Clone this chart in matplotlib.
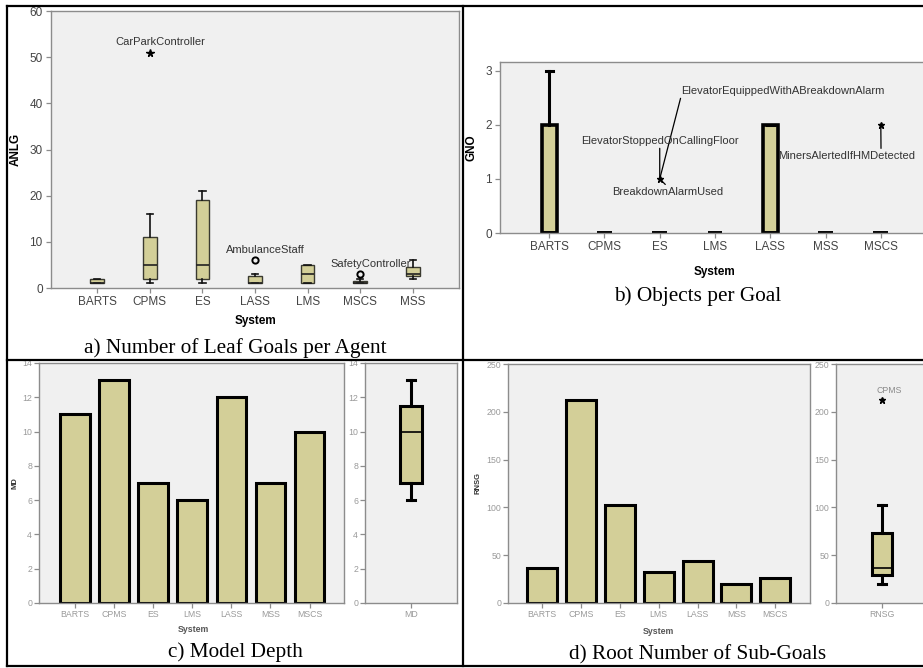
import matplotlib
matplotlib.use("Agg")
import matplotlib.pyplot as plt
from matplotlib.lines import Line2D

plt.rcParams['font.family'] = ['Liberation Sans', 'DejaVu Sans']

# ==========================
# data
# ==========================
# a) leaf goals per agent (box plot summary per system)
a_systems = ["BARTS", "CPMS", "ES", "LASS", "LMS", "MSCS", "MSS"]
a_q1 = [1, 2, 2, 1, 1, 1, 2.5]
a_med = [1, 5, 5, 1, 3, 1, 3]
a_q3 = [2, 11, 19, 2.5, 5, 1.5, 4.5]
a_lo = [1, 1, 1, 1, 1, 1, 2]
a_hi = [2, 16, 21, 3, 5, 2, 6]
a_outliers = {"CPMS": [51], "LASS": [6], "MSCS": [3]}
a_out_kind = {"CPMS": "*", "LASS": "o", "MSCS": "o"}
a_out_names = {"CPMS": "CarParkController", "LASS": "AmbulanceStaff",
               "MSCS": "SafetyController"}

# b) objects per goal
b_systems = ["BARTS", "CPMS", "ES", "LMS", "LASS", "MSS", "MSCS"]
b_q1 = [0, 0, 0, 0, 0, 0, 0]
b_med = [0, 0, 0, 0, 0, 0, 0]
b_q3 = [2, 0, 0, 0, 2, 0, 0]
b_lo = [0, 0, 0, 0, 0, 0, 0]
b_hi = [3, 0, 0, 0, 2, 0, 0]
b_outliers = {"ES": [1], "MSCS": [2]}

# c) model depth
c_systems = ["BARTS", "CPMS", "ES", "LMS", "LASS", "MSS", "MSCS"]
c_md = [11, 13, 7, 6, 12, 7, 10]
c_box = dict(q1=7, med=10, q3=11.5, lo=6, hi=13)

# d) root number of sub-goals
d_systems = ["BARTS", "CPMS", "ES", "LMS", "LASS", "MSS", "MSCS"]
d_rnsg = [37, 212, 103, 32, 44, 20, 26]
d_box = dict(q1=29, med=37, q3=73.5, lo=20, hi=103, out=212)

# ==========================
# style
# ==========================
W, H = 923, 668
BG = "#F0F0F0"
FILL = "#D3CF98"
SPINE = "#8C8C8C"

fig = plt.figure(figsize=(W / 100, H / 100), dpi=100)


def place(x0, y0, x1, y1):
    return fig.add_axes([x0 / W, 1 - y1 / H, (x1 - x0) / W, (y1 - y0) / H])


def style(ax, fs, tcol, pad=1.5):
    ax.set_facecolor(BG)
    for s in ax.spines.values():
        s.set_color(SPINE)
        s.set_linewidth(1.0)
    ax.tick_params(direction="out", length=3.5, width=0.9, color=SPINE,
                   labelsize=fs, labelcolor=tcol, pad=pad)


def stats(q1, med, q3, lo, hi, fl=()):
    return dict(q1=q1, med=med, q3=q3, whislo=lo, whishi=hi, fliers=list(fl))


# ==========================
# a) Number of Leaf Goals per Agent
# ==========================
ax = place(51, 11, 459, 288)
style(ax, 8.5, "#444444", pad=2.5)
st = [stats(a_q1[i], a_med[i], a_q3[i], a_lo[i], a_hi[i]) for i in range(len(a_systems))]
pos = list(range(1, len(a_systems) + 1))
ax.bxp(st, positions=pos, widths=0.26, patch_artist=True, showfliers=False,
       boxprops=dict(facecolor=FILL, edgecolor="#3a3a30", linewidth=1.0),
       medianprops=dict(color="#222222", linewidth=1.2),
       whiskerprops=dict(color="#111111", linewidth=1.2),
       capprops=dict(color="#111111", linewidth=1.2), capwidths=0.12)
for name, vals in a_outliers.items():
    xi = a_systems.index(name) + 1
    for v in vals:
        if a_out_kind[name] == "*":
            ax.plot(xi, v, marker="*", ms=5.5, color="black", ls="none")
        else:
            ax.plot(xi, v, marker="o", ms=4.5, mfc="none", mec="black", mew=1.4, ls="none")
        ax.annotate(a_out_names[name], (xi, v), xytext=(7.5, 4), textcoords="offset points",
                    ha="center", va="bottom", fontsize=8, color="#333333")
ax.set_xlim(0.12, 7.88)
ax.set_ylim(0, 60)
ax.set_xticks(pos)
ax.set_xticklabels(a_systems)
ax.set_yticks(range(0, 61, 10))
ax.set_ylabel("ANLG", fontsize=8.5, fontweight="bold")
ax.yaxis.set_label_coords(-0.071, 0.5)
ax.set_xlabel("System", fontsize=8.5, fontweight="bold")
ax.xaxis.set_label_coords(0.5, -0.097)

# ==========================
# b) Objects per Goal
# ==========================
ax = place(500, 62, 930, 233)
style(ax, 8.5, "#444444", pad=2.5)
st = [stats(b_q1[i], b_med[i], b_q3[i], b_lo[i], b_hi[i]) for i in range(len(b_systems))]
pos = list(range(1, len(b_systems) + 1))
ax.bxp(st, positions=pos, widths=0.27, patch_artist=True, showfliers=False,
       boxprops=dict(facecolor=FILL, edgecolor="black", linewidth=2.6),
       medianprops=dict(color="black", linewidth=2.6),
       whiskerprops=dict(color="black", linewidth=2.2),
       capprops=dict(color="black", linewidth=2.2), capwidths=0.13)
for name, vals in b_outliers.items():
    xi = b_systems.index(name) + 1
    for v in vals:
        ax.plot(xi, v, marker="*", ms=4.5, color="black", ls="none")
es = b_systems.index("ES") + 1
ms = b_systems.index("MSCS") + 1
arr = dict(arrowstyle="-", color="black", lw=0.9, shrinkA=0, shrinkB=1)
ax.annotate("ElevatorEquippedWithABreakdownAlarm", (es, 1), xytext=(15.5, 60),
            textcoords="offset points", ha="left", va="bottom", fontsize=8, color="#333333",
            arrowprops=dict(relpos=(0, 0), **arr))
ax.annotate("ElevatorStoppedOnCallingFloor", (es, 1), xytext=(0, 24),
            textcoords="offset points", ha="center", va="bottom", fontsize=8, color="#333333",
            arrowprops=dict(relpos=(0.5, 0), **arr))
ax.annotate("BreakdownAlarmUsed", (es, 1), xytext=(6, -6),
            textcoords="offset points", ha="center", va="top", fontsize=8, color="#333333",
            arrowprops=dict(relpos=(0.5, 1), **arr))
ax.annotate("MinersAlertedIfHMDetected", (ms, 2), xytext=(-24.5, -19),
            textcoords="offset points", ha="center", va="top", fontsize=8, color="#333333",
            arrowprops=dict(relpos=(0.75, 1), **arr))
ax.set_xlim(0.11, 7.89)
ax.set_ylim(0, 3.16)
ax.set_xticks(pos)
ax.set_xticklabels(b_systems)
ax.set_yticks([0, 1, 2, 3])
ax.set_ylabel("GNO", fontsize=8.5, fontweight="bold")
ax.yaxis.set_label_coords(-0.053, 0.5)
ax.set_xlabel("System", fontsize=8.5, fontweight="bold")
ax.xaxis.set_label_coords(0.5, -0.193)

# ==========================
# c) Model Depth
# ==========================
ax = place(39, 363, 344, 603)
style(ax, 6.3, "#9a9a9a")
pos = list(range(1, len(c_systems) + 1))
ax.bar(pos, c_md, width=0.76, color=FILL, edgecolor="black", linewidth=2.2)
ax.set_xlim(0.08, 7.88)
ax.set_ylim(0, 14)
ax.set_xticks(pos)
ax.set_xticklabels(c_systems)
ax.set_yticks(range(0, 15, 2))
ax.set_ylabel("MD", fontsize=5.5, fontweight="bold", color="#333333")
ax.yaxis.set_label_coords(-0.066, 0.5)
ax.set_xlabel("System", fontsize=6.3, fontweight="bold", color="#555555")
ax.xaxis.set_label_coords(0.505, -0.092)

ax = place(365, 363, 457, 603)
style(ax, 6.3, "#9a9a9a")
ax.bxp([stats(c_box["q1"], c_box["med"], c_box["q3"], c_box["lo"], c_box["hi"])],
       positions=[1], widths=0.23, patch_artist=True, showfliers=False,
       boxprops=dict(facecolor=FILL, edgecolor="black", linewidth=2.2),
       medianprops=dict(color="black", linewidth=1.2),
       whiskerprops=dict(color="black", linewidth=2.2),
       capprops=dict(color="black", linewidth=2.2), capwidths=0.09)
ax.set_xlim(0.5, 1.5)
ax.set_ylim(0, 14)
ax.set_xticks([1])
ax.set_xticklabels(["MD"])
ax.set_yticks(range(0, 15, 2))

# ==========================
# d) Root Number of Sub-Goals
# ==========================
ax = place(508, 364, 810, 603)
style(ax, 6.3, "#9a9a9a")
pos = list(range(1, len(d_systems) + 1))
ax.bar(pos, d_rnsg, width=0.77, color=FILL, edgecolor="black", linewidth=2.2)
ax.set_xlim(0.13, 7.89)
ax.set_ylim(0, 250)
ax.set_xticks(pos)
ax.set_xticklabels(d_systems)
ax.set_yticks(range(0, 251, 50))
ax.set_ylabel("RNSG", fontsize=5.5, fontweight="bold", color="#333333")
ax.yaxis.set_label_coords(-0.089, 0.5)
ax.set_xlabel("System", fontsize=6.3, fontweight="bold", color="#555555")
ax.xaxis.set_label_coords(0.497, -0.1)

ax = place(836, 364, 928, 603)
style(ax, 6.3, "#9a9a9a")
ax.bxp([stats(d_box["q1"], d_box["med"], d_box["q3"], d_box["lo"], d_box["hi"])],
       positions=[1], widths=0.22, patch_artist=True, showfliers=False,
       boxprops=dict(facecolor=FILL, edgecolor="black", linewidth=2.2),
       medianprops=dict(color="black", linewidth=1.2),
       whiskerprops=dict(color="black", linewidth=2.2),
       capprops=dict(color="black", linewidth=2.2), capwidths=0.09)
ax.plot(1, d_box["out"], marker="*", ms=4.5, color="black", ls="none")
ax.annotate("CPMS", (1, d_box["out"]), xytext=(5, 4), textcoords="offset points",
            ha="center", va="bottom", fontsize=6.3, color="#8a8a8a")
ax.set_xlim(0.48, 1.52)
ax.set_ylim(0, 250)
ax.set_xticks([1])
ax.set_xticklabels(["RNSG"])
ax.set_yticks(range(0, 251, 50))

# ==========================
# captions and table grid
# ==========================
cap = dict(fontsize=15.3, family="Liberation Serif", ha="center", va="center", color="black")
fig.text(235 / W, 1 - 348 / H, "a) Number of Leaf Goals per Agent", **cap)
fig.text(698 / W, 1 - 296 / H, "b) Objects per Goal", **cap)
fig.text(235 / W, 1 - 652 / H, "c) Model Depth", **cap)
fig.text(698 / W, 1 - 655 / H, "d) Root Number of Sub-Goals", **cap)

grid = [((7, 5.5), (923, 5.5)), ((7, 666), (923, 666)), ((7, 5.5), (7, 666)),
        ((463, 5.5), (463, 666)), ((7, 360), (923, 360))]
for (x0, y0), (x1, y1) in grid:
    fig.add_artist(Line2D([x0 / W, x1 / W], [1 - y0 / H, 1 - y1 / H],
                          color="black", linewidth=1.6, transform=fig.transFigure))

fig.savefig("out.png", dpi=100)
